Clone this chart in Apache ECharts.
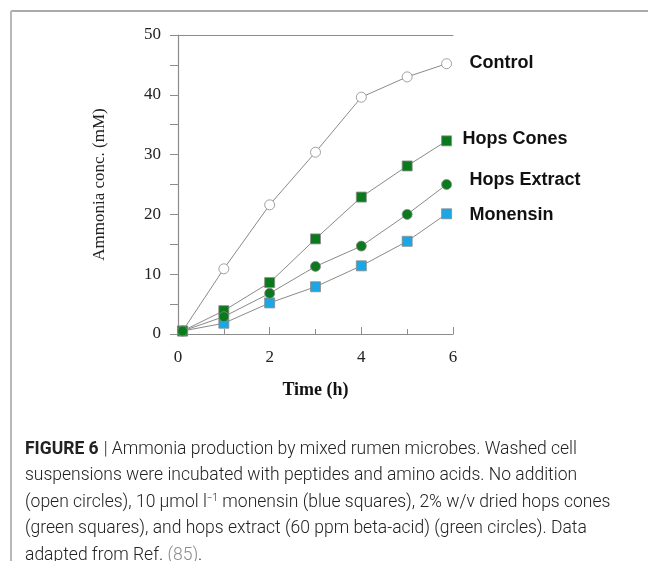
<!DOCTYPE html>
<html>
<head>
<meta charset="utf-8">
<script src="https://cdn.jsdelivr.net/npm/echarts@6/dist/echarts.min.js"></script>
<style>
  html, body { margin: 0; padding: 0; background: #fff; }
  #chart { width: 648px; height: 561px; }
</style>
</head>
<body>
<div id="chart"></div>
<script>
// sampling times (h)
const times = [0.1, 1, 2, 3, 4, 5, 5.86];

// ammonia concentration (mM)
const control = [0.5, 10.9, 21.6, 30.4, 39.6, 43.0, 45.2];
const monensin = [0.5, 1.8, 5.2, 7.9, 11.4, 15.5, 20.1];
const hopsCones = [0.5, 3.9, 8.6, 15.9, 22.9, 28.1, 32.3];
const hopsExtract = [0.5, 2.9, 6.8, 11.3, 14.7, 20.0, 25.0];

const xTicks = [0, 2, 4, 6];
const yTicks = [0, 10, 20, 30, 40, 50];

const serif = '"Liberation Serif", "DejaVu Serif", serif';
const sans = '"Liberation Sans", Arial, sans-serif';
const axisGray = '#8c8c8c';

function pairs(ys) {
  return times.map((t, i) => [t, ys[i]]);
}

function makeSeries(name, ys, symbol, fill, offset) {
  return {
    name: name,
    type: 'line',
    data: pairs(ys),
    symbol: symbol,
    symbolSize: 10,
    showAllSymbol: true,
    lineStyle: { color: '#8a8a8a', width: 1 },
    itemStyle: { color: fill, borderColor: '#8a8a8a', borderWidth: 0.8 },
    emphasis: { disabled: true },
    animation: false,
    endLabel: {
      show: true,
      formatter: '{a}',
      distance: 0,
      offset: offset,
      fontFamily: sans,
      fontWeight: 'bold',
      fontSize: 18,
      color: '#111'
    }
  };
}

const chart = echarts.init(document.getElementById('chart'), null, { renderer: 'canvas' });

const cap = { fontFamily: 'Roboto', fontWeight: 300, fontSize: 17.5, color: '#222', lineHeight: 26.5 };

chart.setOption({
  animation: false,
  backgroundColor: '#fff',
  title: {
    left: 20,
    top: 431,
    text: '{b|FIGURE 6} {t|| Ammonia production by mixed rumen microbes. Washed cell}\n' +
      '{t|suspensions were incubated with peptides and amino acids. No addition}\n' +
      '{t|(open circles), 10 µmol l}{s|−1}{t| monensin (blue squares), 2% w/v dried hops cones}\n' +
      '{t|(green squares), and hops extract (60 ppm beta-acid) (green circles). Data}\n' +
      '{t|adapted from Ref. }{r|(85)}{t|.}',
    textStyle: {
      rich: {
        b: Object.assign({}, cap, { fontWeight: 'bold' }),
        t: cap,
        s: Object.assign({}, cap, { fontSize: 10, verticalAlign: 'top', padding: [4, 0, 0, 0] }),
        r: Object.assign({}, cap, { color: '#8a8a8a' })
      }
    }
  },
  graphic: [
    { type: 'line', shape: { x1: 11, y1: 11, x2: 648, y2: 11 }, style: { stroke: '#8f8f8f', lineWidth: 1.5 } },
    { type: 'line', shape: { x1: 11, y1: 11, x2: 11, y2: 561 }, style: { stroke: '#b8b8b8', lineWidth: 2 } }
  ],
  grid: { left: 178, right: 195, top: 35, bottom: 227 },
  xAxis: [
    {
      type: 'value',
      min: 0,
      max: 6,
      interval: 2,
      name: 'Time (h)',
      nameLocation: 'middle',
      nameGap: 47,
      nameTextStyle: { fontFamily: serif, fontWeight: 'bold', fontSize: 18, color: '#111' },
      axisLine: { show: true, lineStyle: { color: axisGray, width: 1.2 } },
      axisTick: { show: true, inside: true, length: 7, lineStyle: { color: axisGray } },
      minorTick: { show: true, splitNumber: 2, length: 5, lineStyle: { color: axisGray } },
      splitLine: { show: false },
      axisLabel: {
        fontFamily: serif, fontSize: 17, color: '#222', margin: 15,
        formatter: v => (xTicks.indexOf(v) >= 0 ? String(v) : '')
      }
    },
    {
      type: 'value',
      position: 'top',
      min: 0,
      max: 6,
      axisLine: { show: true, lineStyle: { color: axisGray, width: 1.2 } },
      axisTick: { show: false },
      axisLabel: { show: false },
      splitLine: { show: false }
    }
  ],
  yAxis: {
    type: 'value',
    min: 0,
    max: 50,
    interval: 10,
    name: 'Ammonia conc. (mM)',
    nameLocation: 'middle',
    nameGap: 70,
    nameTextStyle: { fontFamily: serif, fontSize: 17, color: '#222' },
    axisLine: { show: true, lineStyle: { color: axisGray, width: 1.2 } },
    axisTick: { show: true, inside: false, length: 8, lineStyle: { color: axisGray } },
    minorTick: { show: true, splitNumber: 2, length: 8, lineStyle: { color: axisGray } },
    splitLine: { show: false },
    axisLabel: {
      fontFamily: serif, fontSize: 17, color: '#222', margin: 17,
      formatter: v => (yTicks.indexOf(v) >= 0 ? String(v) : '')
    }
  },
  series: [
    makeSeries('Control', control, 'circle', '#ffffff', [23, -1]),
    makeSeries('Monensin', monensin, 'rect', '#1ba7e6', [23, 1]),
    makeSeries('Hops Cones', hopsCones, 'rect', '#0b7a1c', [16, -2]),
    makeSeries('Hops Extract', hopsExtract, 'circle', '#0b7a1c', [23, -4])
  ]
});
</script>
</body>
</html>
